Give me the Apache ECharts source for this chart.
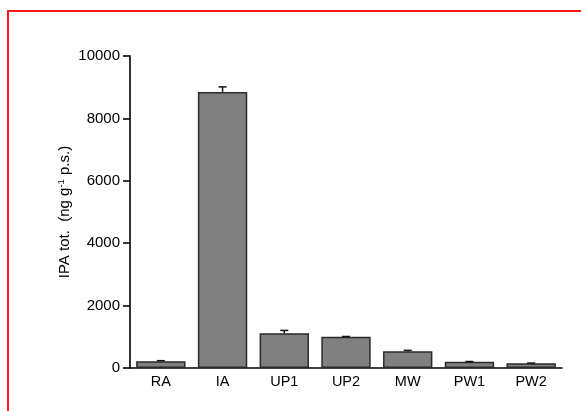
<!DOCTYPE html>
<html>
<head>
<meta charset="utf-8">
<script src="https://cdn.jsdelivr.net/npm/echarts@6/dist/echarts.min.js"></script>
<style>
  html, body { margin: 0; padding: 0; background: #fff; }
  #chart { width: 581px; height: 411px; }
</style>
</head>
<body>
<div id="chart"></div>
<script>
// Sampling sites
const categories = ['RA', 'IA', 'UP1', 'UP2', 'MW', 'PW1', 'PW2'];
// Mean total IPA (ng g-1 p.s.)
const means = [220, 8850, 1110, 1000, 535, 200, 150];
// Standard error of each mean
const errors = [15, 160, 95, 10, 30, 8, 8];
// Y axis ticks
const yMin = 0, yMax = 10000, yStep = 2000;

const fontFamily = 'Liberation Sans, Arial, Helvetica, sans-serif';
const chart = echarts.init(document.getElementById('chart'), null, { renderer: 'canvas' });

// Only the upper whisker is drawn, from the bar top to mean + error
const errorData = categories.map((c, i) => [i, means[i], means[i] + errors[i]]);

chart.setOption({
  animation: false,
  backgroundColor: '#ffffff',
  graphic: [{
    type: 'rect',
    shape: { x: 8, y: 11, width: 800, height: 600 },
    style: { fill: 'none', stroke: '#ff1a1a', lineWidth: 2 },
    silent: true
  }],
  grid: { left: 130, right: 19, top: 56, bottom: 43, containLabel: false },
  xAxis: {
    type: 'category',
    data: categories,
    axisLine: { lineStyle: { color: '#000', width: 1.6 } },
    axisTick: { show: true, inside: true, length: 3, alignWithLabel: true, lineStyle: { color: '#222', width: 1 } },
    axisLabel: { color: '#000', fontSize: 14.5, fontFamily, margin: 6 }
  },
  yAxis: {
    type: 'value',
    min: yMin, max: yMax, interval: yStep,
    splitLine: { show: false },
    axisLine: { show: true, lineStyle: { color: '#000', width: 1.6 } },
    axisTick: { show: true, length: 7, lineStyle: { color: '#000', width: 1.6 } },
    axisLabel: { color: '#000', fontSize: 15, fontFamily, margin: 10, formatter: v => String(v) },
    name: '{n|IPA tot.  (ng g}{s|-1}{n| p.s.)}',
    nameLocation: 'middle',
    nameGap: 56,
    nameMoveOverlap: false,
    nameRotate: 90,
    nameTextStyle: {
      rich: {
        n: { fontSize: 15, color: '#000', fontFamily },
        s: { fontSize: 9.5, color: '#000', fontFamily, verticalAlign: 'top', padding: [0, 0, 8, 0] }
      }
    }
  },
  series: [
    {
      type: 'bar',
      data: means,
      barWidth: '80%',
      itemStyle: { color: '#808080', borderColor: '#2a2a2a', borderWidth: 1.5 },
      z: 2
    },
    {
      type: 'custom',
      data: errorData,
      z: 3,
      renderItem: function (params, api) {
        const i = api.value(0);
        const lo = api.coord([i, api.value(1)]);
        const hi = api.coord([i, api.value(2)]);
        const half = 4;
        return {
          type: 'group',
          children: [
            { type: 'line', shape: { x1: hi[0], y1: hi[1], x2: lo[0], y2: lo[1] }, style: { stroke: '#111', lineWidth: 1.5 } },
            { type: 'line', shape: { x1: hi[0] - half, y1: hi[1], x2: hi[0] + half, y2: hi[1] }, style: { stroke: '#111', lineWidth: 1.5 } }
          ]
        };
      }
    }
  ]
});
</script>
</body>
</html>
